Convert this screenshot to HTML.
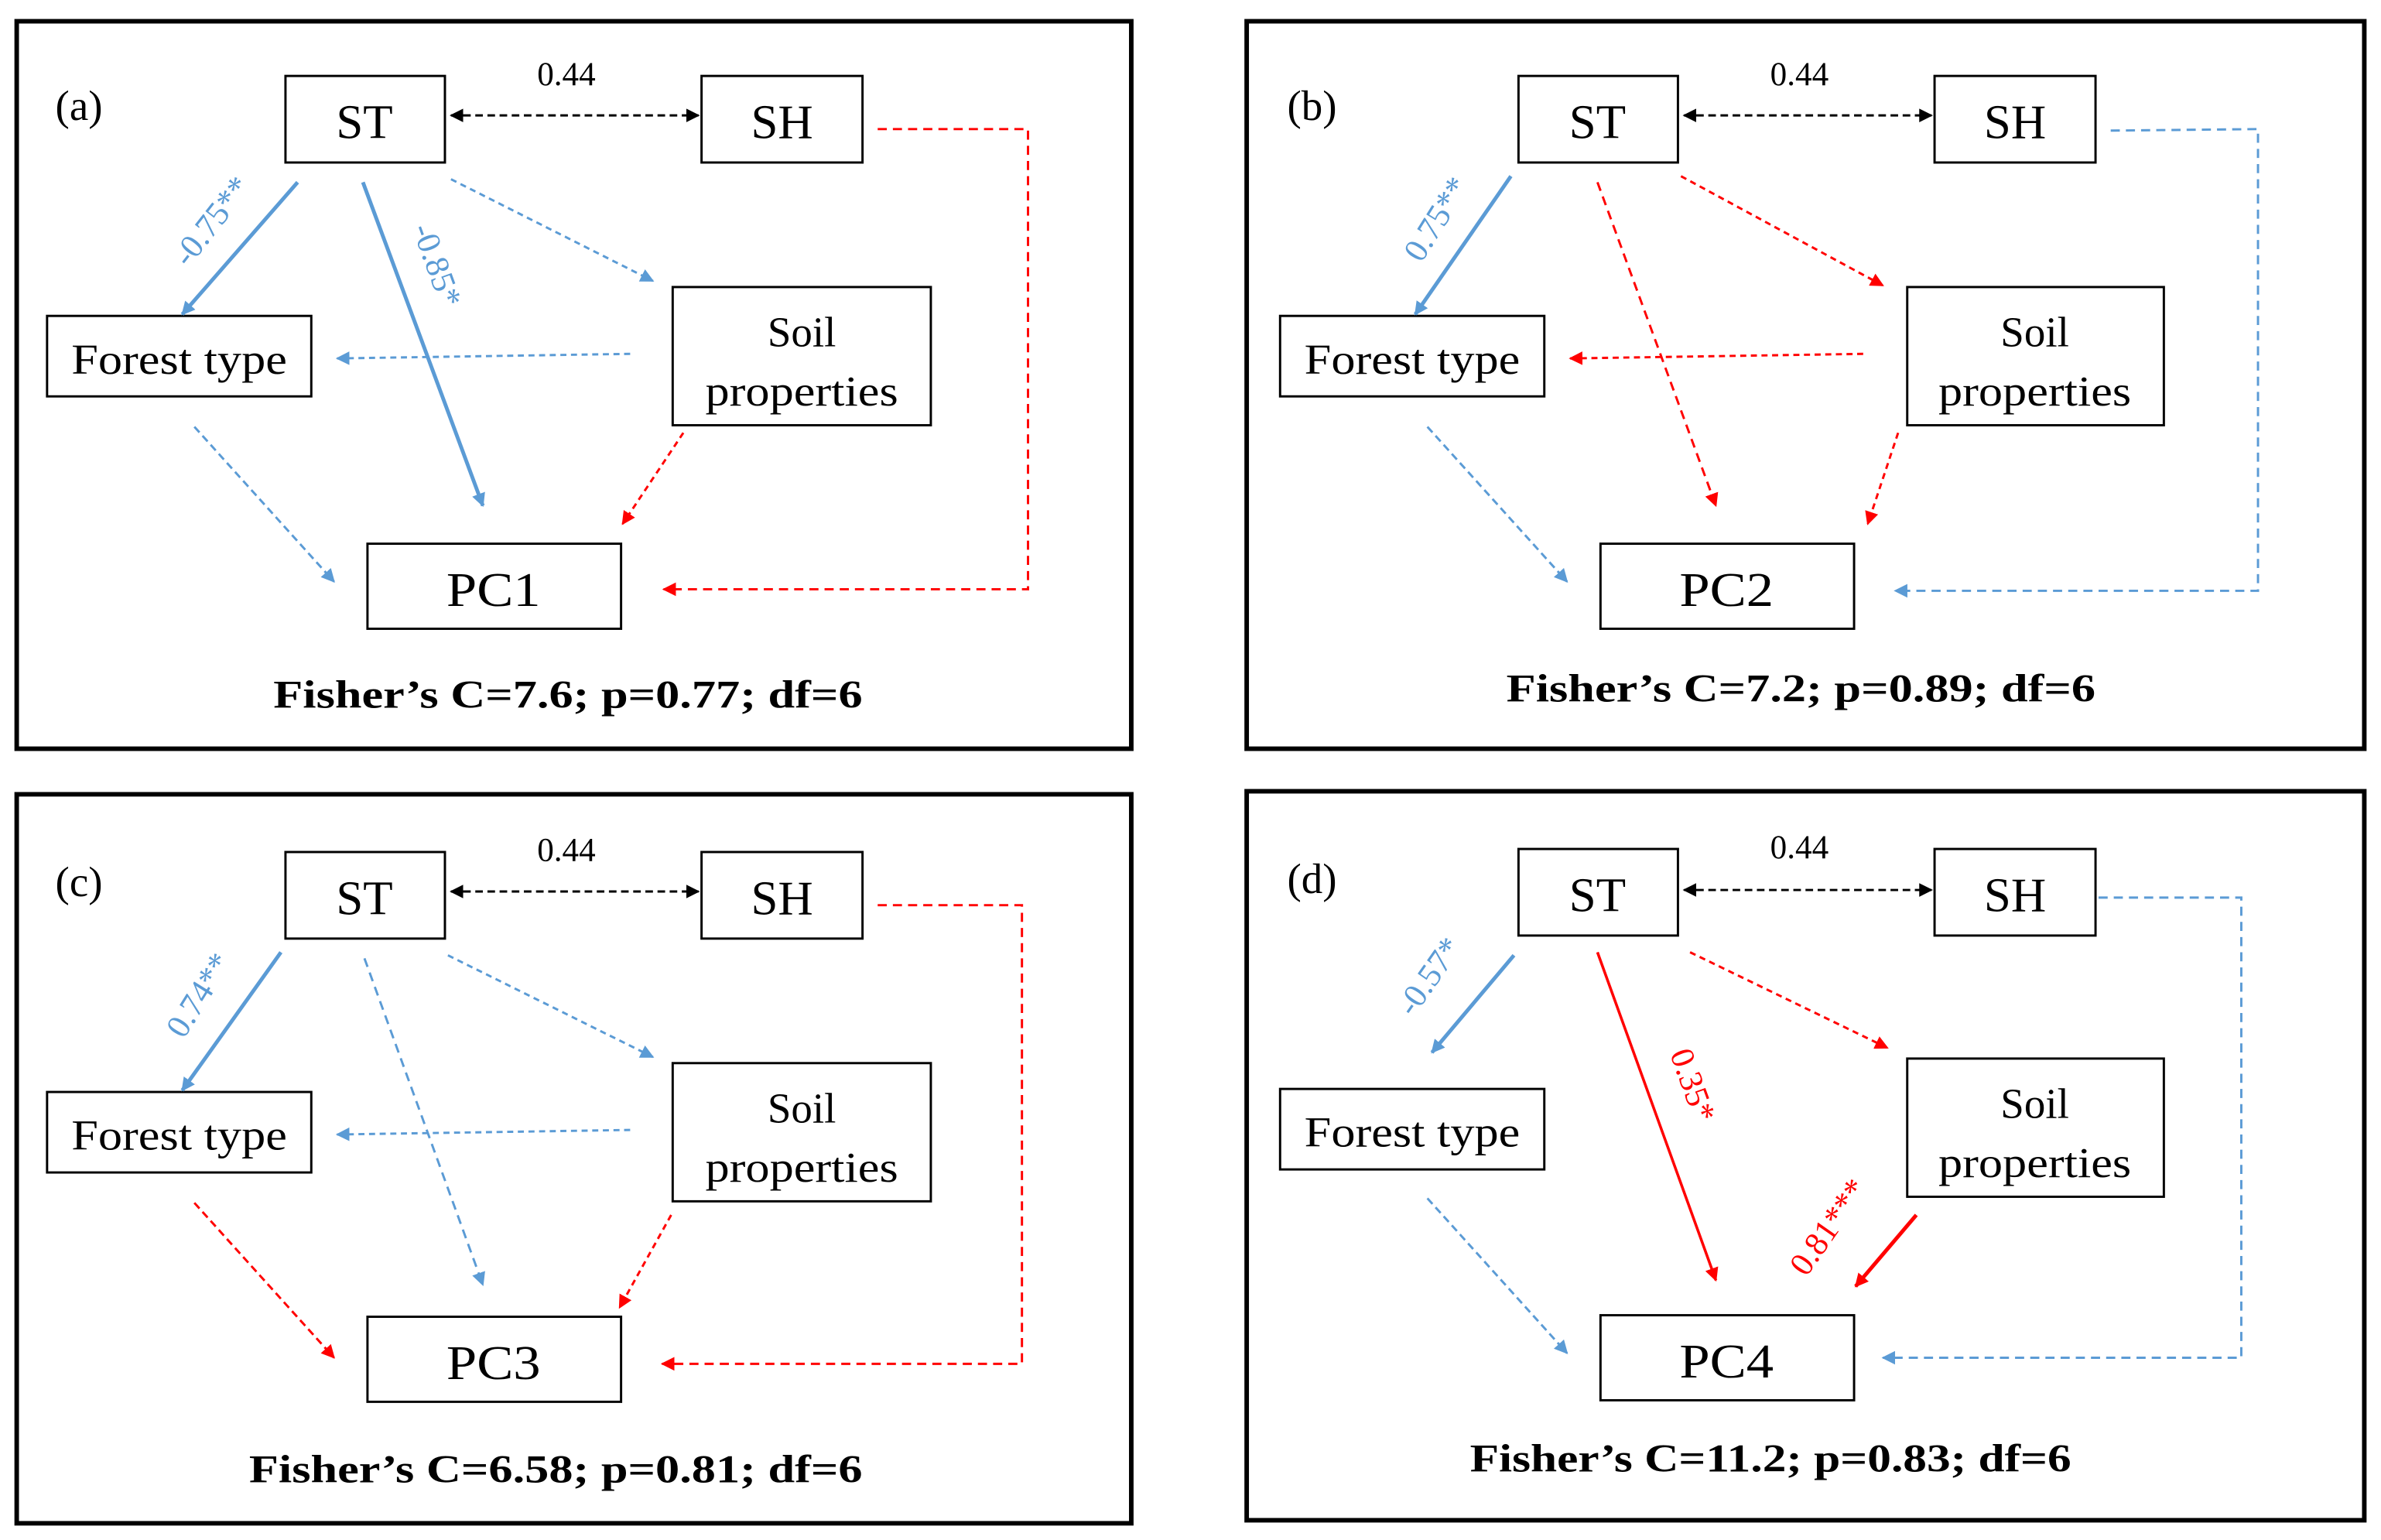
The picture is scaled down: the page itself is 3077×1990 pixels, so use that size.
<!DOCTYPE html>
<html><head><meta charset="utf-8"><style>
html,body{margin:0;padding:0;background:#fff;}
svg{display:block;}
text{font-family:"Liberation Serif",serif;}
</style></head><body>
<svg width="3077" height="1990" viewBox="0 0 1568 1014" preserveAspectRatio="none" xmlns="http://www.w3.org/2000/svg">
<defs>
<marker id="ab" viewBox="0 0 10 10" refX="9" refY="5" markerWidth="9" markerHeight="9" markerUnits="userSpaceOnUse" orient="auto-start-reverse"><path d="M0,0L10,5L0,10z" fill="#5b9bd5"/></marker>
<marker id="ar" viewBox="0 0 10 10" refX="9" refY="5" markerWidth="9" markerHeight="9" markerUnits="userSpaceOnUse" orient="auto-start-reverse"><path d="M0,0L10,5L0,10z" fill="#ff0000"/></marker>
<marker id="ak" viewBox="0 0 10 10" refX="9" refY="5" markerWidth="9" markerHeight="9" markerUnits="userSpaceOnUse" orient="auto-start-reverse"><path d="M0,0L10,5L0,10z" fill="#000"/></marker>
</defs>
<rect width="1568" height="1014" fill="#fff"/>
<g fill="none" stroke="#000" stroke-width="3">
<rect x="11" y="14" width="734" height="479"/>
<rect x="821" y="14" width="736" height="479"/>
<rect x="11" y="523" width="734" height="480"/>
<rect x="821" y="521" width="736" height="480"/>
</g>

<!-- Panel a -->
<g>
<g fill="#fff" stroke="#000" stroke-width="1.5">
<rect x="188" y="50" width="105" height="57"/><rect x="462" y="50" width="106" height="57"/>
<rect x="31" y="208" width="174" height="53"/><rect x="443" y="189" width="170" height="91"/>
<rect x="242" y="358" width="167" height="56"/></g>
<g font-size="32" text-anchor="middle"><text x="240" y="91">ST</text><text x="515" y="91">SH</text><text x="325" y="399" textLength="62" lengthAdjust="spacingAndGlyphs">PC1</text></g>
<g font-size="28" text-anchor="middle"><text x="118" y="246" textLength="142" lengthAdjust="spacingAndGlyphs">Forest type</text><text x="528" y="228">Soil</text><text x="528" y="267" textLength="127" lengthAdjust="spacingAndGlyphs">properties</text></g>
<text x="52" y="79" font-size="28" text-anchor="middle">(a)</text>
<text x="373" y="56" font-size="22" text-anchor="middle">0.44</text>
<text x="374" y="466" font-size="26" font-weight="bold" text-anchor="middle" textLength="388" lengthAdjust="spacingAndGlyphs">Fisher’s C=7.6; p=0.77; df=6</text>
<line x1="297" y1="76" x2="460" y2="76" stroke="#000" stroke-width="1.5" stroke-dasharray="5,3" marker-start="url(#ak)" marker-end="url(#ak)"/>
<polyline points="578,85 677,85 677,388 437,388" fill="none" stroke="#f00" stroke-width="1.5" stroke-dasharray="6,4" marker-end="url(#ar)"/>
<line x1="196" y1="120" x2="120" y2="207" stroke="#5b9bd5" stroke-width="2.5" marker-end="url(#ab)"/>
<line x1="239" y1="120" x2="318" y2="333" stroke="#5b9bd5" stroke-width="2.5" marker-end="url(#ab)"/>
<line x1="297" y1="118" x2="430" y2="185" stroke="#5b9bd5" stroke-width="1.5" stroke-dasharray="4,3" marker-end="url(#ab)"/>
<line x1="415" y1="233" x2="222" y2="236" stroke="#5b9bd5" stroke-width="1.5" stroke-dasharray="4,3" marker-end="url(#ab)"/>
<line x1="450" y1="285" x2="410" y2="345" stroke="#f00" stroke-width="1.5" stroke-dasharray="4,3" marker-end="url(#ar)"/>
<line x1="128" y1="281" x2="220" y2="383" stroke="#5b9bd5" stroke-width="1.5" stroke-dasharray="5,3" marker-end="url(#ab)"/>
<text transform="translate(145,150) rotate(-52)" font-size="22" fill="#5b9bd5" text-anchor="middle">-0.75**</text>
<text transform="translate(281,177) rotate(70)" font-size="22" fill="#5b9bd5" text-anchor="middle">-0.85*</text>
</g>

<!-- Panel b -->
<g transform="translate(812,0)">
<g fill="#fff" stroke="#000" stroke-width="1.5">
<rect x="188" y="50" width="105" height="57"/><rect x="462" y="50" width="106" height="57"/>
<rect x="31" y="208" width="174" height="53"/><rect x="444" y="189" width="169" height="91"/>
<rect x="242" y="358" width="167" height="56"/></g>
<g font-size="32" text-anchor="middle"><text x="240" y="91">ST</text><text x="515" y="91">SH</text><text x="325" y="399" textLength="62" lengthAdjust="spacingAndGlyphs">PC2</text></g>
<g font-size="28" text-anchor="middle"><text x="118" y="246" textLength="142" lengthAdjust="spacingAndGlyphs">Forest type</text><text x="528" y="228">Soil</text><text x="528" y="267" textLength="127" lengthAdjust="spacingAndGlyphs">properties</text></g>
<text x="52" y="79" font-size="28" text-anchor="middle">(b)</text>
<text x="373" y="56" font-size="22" text-anchor="middle">0.44</text>
<text x="374" y="462" font-size="26" font-weight="bold" text-anchor="middle" textLength="388" lengthAdjust="spacingAndGlyphs">Fisher’s C=7.2; p=0.89; df=6</text>
<line x1="297" y1="76" x2="460" y2="76" stroke="#000" stroke-width="1.5" stroke-dasharray="5,3" marker-start="url(#ak)" marker-end="url(#ak)"/>
<polyline points="578,86 675,85 675,389 436,389" fill="none" stroke="#5b9bd5" stroke-width="1.5" stroke-dasharray="6,4" marker-end="url(#ab)"/>
<line x1="183" y1="116" x2="120" y2="207" stroke="#5b9bd5" stroke-width="2.5" marker-end="url(#ab)"/>
<line x1="240" y1="120" x2="318" y2="333" stroke="#f00" stroke-width="1.5" stroke-dasharray="6,4" marker-end="url(#ar)"/>
<line x1="295" y1="116" x2="428" y2="188" stroke="#f00" stroke-width="1.5" stroke-dasharray="4,3" marker-end="url(#ar)"/>
<line x1="415" y1="233" x2="222" y2="236" stroke="#f00" stroke-width="1.5" stroke-dasharray="4,3" marker-end="url(#ar)"/>
<line x1="438" y1="285" x2="418" y2="345" stroke="#f00" stroke-width="1.5" stroke-dasharray="4,3" marker-end="url(#ar)"/>
<line x1="128" y1="281" x2="220" y2="383" stroke="#5b9bd5" stroke-width="1.5" stroke-dasharray="5,3" marker-end="url(#ab)"/>
<text transform="translate(140,148) rotate(-58)" font-size="22" fill="#5b9bd5" text-anchor="middle">0.75**</text>
</g>

<!-- Panel c -->
<g transform="translate(0,511)">
<g fill="#fff" stroke="#000" stroke-width="1.5">
<rect x="188" y="50" width="105" height="57"/><rect x="462" y="50" width="106" height="57"/>
<rect x="31" y="208" width="174" height="53"/><rect x="443" y="189" width="170" height="91"/>
<rect x="242" y="356" width="167" height="56"/></g>
<g font-size="32" text-anchor="middle"><text x="240" y="91">ST</text><text x="515" y="91">SH</text><text x="325" y="397" textLength="62" lengthAdjust="spacingAndGlyphs">PC3</text></g>
<g font-size="28" text-anchor="middle"><text x="118" y="246" textLength="142" lengthAdjust="spacingAndGlyphs">Forest type</text><text x="528" y="228">Soil</text><text x="528" y="267" textLength="127" lengthAdjust="spacingAndGlyphs">properties</text></g>
<text x="52" y="79" font-size="28" text-anchor="middle">(c)</text>
<text x="373" y="56" font-size="22" text-anchor="middle">0.44</text>
<text x="366" y="465" font-size="26" font-weight="bold" text-anchor="middle" textLength="404" lengthAdjust="spacingAndGlyphs">Fisher’s C=6.58; p=0.81; df=6</text>
<line x1="297" y1="76" x2="460" y2="76" stroke="#000" stroke-width="1.5" stroke-dasharray="5,3" marker-start="url(#ak)" marker-end="url(#ak)"/>
<polyline points="578,85 673,85 673,387 436,387" fill="none" stroke="#f00" stroke-width="1.5" stroke-dasharray="6,4" marker-end="url(#ar)"/>
<line x1="185" y1="116" x2="120" y2="207" stroke="#5b9bd5" stroke-width="2.5" marker-end="url(#ab)"/>
<line x1="240" y1="120" x2="318" y2="335" stroke="#5b9bd5" stroke-width="1.5" stroke-dasharray="6,4" marker-end="url(#ab)"/>
<line x1="295" y1="118" x2="430" y2="185" stroke="#5b9bd5" stroke-width="1.5" stroke-dasharray="4,3" marker-end="url(#ab)"/>
<line x1="415" y1="233" x2="222" y2="236" stroke="#5b9bd5" stroke-width="1.5" stroke-dasharray="4,3" marker-end="url(#ab)"/>
<line x1="442" y1="289" x2="408" y2="350" stroke="#f00" stroke-width="1.5" stroke-dasharray="4,3" marker-end="url(#ar)"/>
<line x1="128" y1="281" x2="220" y2="383" stroke="#f00" stroke-width="1.5" stroke-dasharray="5,3" marker-end="url(#ar)"/>
<text transform="translate(137,148) rotate(-58)" font-size="22" fill="#5b9bd5" text-anchor="middle">0.74**</text>
</g>

<!-- Panel d -->
<g transform="translate(812,509)">
<g fill="#fff" stroke="#000" stroke-width="1.5">
<rect x="188" y="50" width="105" height="57"/><rect x="462" y="50" width="106" height="57"/>
<rect x="31" y="208" width="174" height="53"/><rect x="444" y="188" width="169" height="91"/>
<rect x="242" y="357" width="167" height="56"/></g>
<g font-size="32" text-anchor="middle"><text x="240" y="91">ST</text><text x="515" y="91">SH</text><text x="325" y="398" textLength="62" lengthAdjust="spacingAndGlyphs">PC4</text></g>
<g font-size="28" text-anchor="middle"><text x="118" y="246" textLength="142" lengthAdjust="spacingAndGlyphs">Forest type</text><text x="528" y="227">Soil</text><text x="528" y="266" textLength="127" lengthAdjust="spacingAndGlyphs">properties</text></g>
<text x="52" y="79" font-size="28" text-anchor="middle">(d)</text>
<text x="373" y="56" font-size="22" text-anchor="middle">0.44</text>
<text x="354" y="460" font-size="26" font-weight="bold" text-anchor="middle" textLength="396" lengthAdjust="spacingAndGlyphs">Fisher’s C=11.2; p=0.83; df=6</text>
<line x1="297" y1="77" x2="460" y2="77" stroke="#000" stroke-width="1.5" stroke-dasharray="5,3" marker-start="url(#ak)" marker-end="url(#ak)"/>
<polyline points="570,82 664,82 664,385 428,385" fill="none" stroke="#5b9bd5" stroke-width="1.5" stroke-dasharray="6,4" marker-end="url(#ab)"/>
<line x1="185" y1="120" x2="131" y2="184" stroke="#5b9bd5" stroke-width="2.5" marker-end="url(#ab)"/>
<line x1="240" y1="118" x2="318" y2="334" stroke="#f00" stroke-width="1.8" marker-end="url(#ar)"/>
<line x1="301" y1="118" x2="431" y2="181" stroke="#f00" stroke-width="1.5" stroke-dasharray="4,3" marker-end="url(#ar)"/>
<line x1="450" y1="291" x2="410" y2="338" stroke="#f00" stroke-width="2.5" marker-end="url(#ar)"/>
<line x1="128" y1="280" x2="220" y2="382" stroke="#5b9bd5" stroke-width="1.5" stroke-dasharray="5,3" marker-end="url(#ab)"/>
<text transform="translate(135,138) rotate(-55)" font-size="22" fill="#5b9bd5" text-anchor="middle">-0.57*</text>
<text transform="translate(296,208) rotate(70)" font-size="22" fill="#f00" text-anchor="middle">0.35*</text>
<text transform="translate(398,303) rotate(-55)" font-size="22" fill="#f00" text-anchor="middle">0.81***</text>
</g>
</svg>
</body></html>
